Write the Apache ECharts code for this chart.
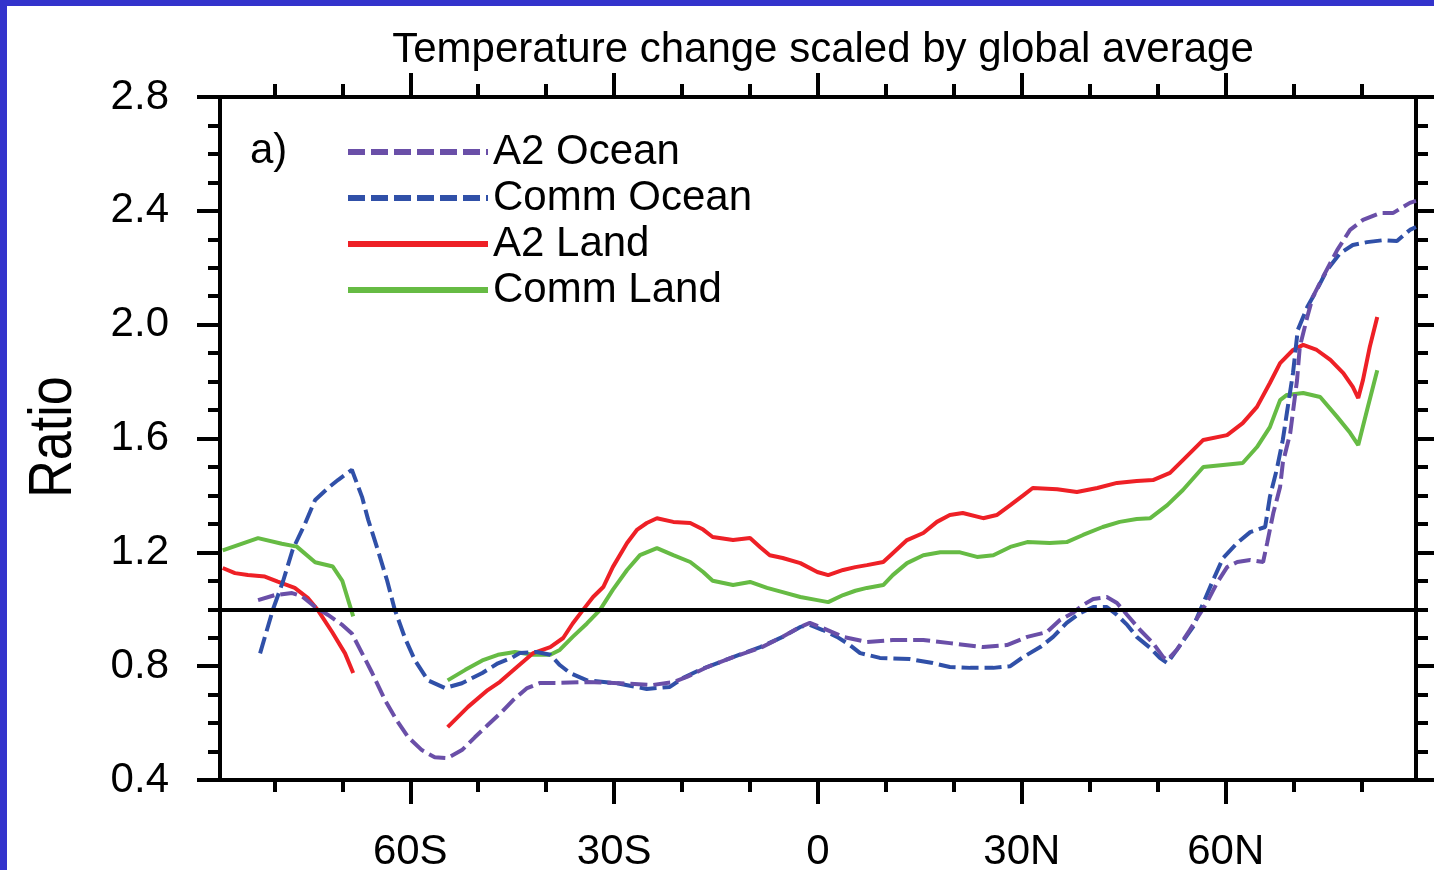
<!DOCTYPE html>
<html>
<head>
<meta charset="utf-8">
<title>Temperature change scaled by global average</title>
<script src="https://cdn.jsdelivr.net/npm/echarts@6/dist/echarts.min.js"></script>
<style>
html, body { margin: 0; padding: 0; background: #fff; }
#chart { width: 1434px; height: 870px; }
.edge { position: absolute; background: #3333cc; pointer-events: none; }
</style>
</head>
<body>
<div id="chart"></div>
<div class="edge" style="left:0;top:0;width:7px;height:870px"></div>
<div class="edge" style="left:0;top:0;width:1434px;height:6px"></div>
<script>
// latitude ticks and labels
var majorLats = [-60, -30, 0, 30, 60];
var minorLats = [-80, -70, -60, -50, -40, -30, -20, -10, 0, 10, 20, 30, 40, 50, 60, 70, 80];

// [latitude, ratio]; '-' breaks the land lines
var a2Ocean = [[-82.4,1.032],[-79.9,1.05],[-77.4,1.057],[-75.9,1.045],[-74.0,1.008],[-72.1,0.98],[-70.0,0.945],[-68.6,0.915],
  [-67.1,0.846],[-65.6,0.776],[-63.7,0.68],[-62.0,0.61],[-60.3,0.55],[-58.3,0.505],[-56.4,0.48],[-54.5,0.477],[-52.4,0.505],
  [-50.5,0.55],[-48.6,0.593],[-46.5,0.64],[-44.9,0.68],[-42.8,0.723],[-40.9,0.741],[-38.4,0.741],[-34.0,0.744],[-29.1,0.74],
  [-24.3,0.734],[-21.3,0.744],[-19.3,0.762],[-16.3,0.797],[-12.5,0.832],[-8.5,0.864],[-5.2,0.903],[-2.6,0.938],[-1.2,0.952],
  [0.7,0.934],[3.7,0.903],[7.2,0.885],[11.0,0.892],[15.5,0.892],[19.4,0.881],[24.3,0.867],[27.8,0.874],[30.8,0.903],[33.7,0.92],
  [35.6,0.962],[37.5,0.987],[39.0,1.015],[40.5,1.036],[42.5,1.043],[44.0,1.022],[45.5,0.98],[47.4,0.927],[49.3,0.881],[50.8,0.832],
  [51.4,0.822],[52.8,0.857],[54.7,0.927],[57.2,1.022],[58.7,1.092],[60.2,1.148],[61.7,1.166],[63.6,1.173],[65.5,1.166],[66.1,1.233],
  [67.0,1.338],[68.0,1.43],[68.4,1.514],[69.5,1.62],[70.5,1.806],[70.9,1.922],[72.0,2.027],[72.8,2.097],[74.3,2.167],[76.4,2.262],
  [78.3,2.333],[80.2,2.368],[82.7,2.392],[84.6,2.392],[87.1,2.428],[88,2.435]];

var commOcean = [[-82.1,0.845],[-80.2,1.0],[-78.7,1.10],[-77.3,1.21],[-75.5,1.30],[-74.0,1.384],[-72.1,1.426],[-70.6,1.455],
  [-68.6,1.49],[-67.1,1.395],[-66.2,1.315],[-64.8,1.21],[-63.4,1.10],[-62.3,1.0],[-60.8,0.90],[-59.3,0.82],[-57.4,0.75],
  [-54.9,0.723],[-52.4,0.74],[-49.4,0.776],[-47.1,0.81],[-45.0,0.83],[-43.9,0.846],[-41.4,0.85],[-39.4,0.84],[-38.0,0.804],
  [-36.5,0.776],[-34.0,0.75],[-29.6,0.74],[-25.2,0.72],[-21.8,0.727],[-19.9,0.758],[-17.4,0.787],[-12.5,0.832],[-8.5,0.867],
  [-5.2,0.903],[-2.6,0.938],[-1.2,0.945],[0.7,0.927],[2.8,0.903],[4.7,0.874],[6.2,0.846],[9.1,0.829],[13.5,0.825],[16.9,0.811],
  [19.4,0.797],[22.4,0.794],[25.8,0.794],[28.3,0.8],[30.2,0.832],[32.7,0.867],[34.6,0.903],[36.6,0.952],[38.6,0.987],[40.5,1.008],
  [42.5,1.008],[44.0,0.98],[45.5,0.945],[46.9,0.903],[48.9,0.864],[50.3,0.829],[51.4,0.811],[52.8,0.857],[55.2,0.938],[56.7,1.022],
  [58.1,1.10],[59.6,1.18],[61.7,1.233],[63.6,1.271],[65.8,1.289],[66.5,1.395],[67.5,1.49],[68.4,1.595],[69.0,1.69],[69.9,1.83],
  [70.6,1.981],[72.0,2.062],[73.4,2.122],[74.9,2.192],[76.8,2.25],[78.7,2.28],[80.8,2.29],[83.2,2.297],[85.2,2.294],[87.1,2.333],
  [88,2.343]];

var a2Land = [[-87.6,1.145],[-85.8,1.127],[-83.9,1.12],[-81.4,1.115],[-79.5,1.097],[-77.0,1.075],[-75.1,1.04],[-73.6,0.997],
  [-71.5,0.92],[-69.6,0.845],[-68.4,0.776],['-','-'],
  [-54.5,0.586],[-51.5,0.657],[-48.6,0.716],[-46.8,0.745],[-44.3,0.797],[-41.9,0.846],[-39.4,0.867],[-37.5,0.899],[-36.1,0.95],
  [-34.6,0.997],[-33.1,1.043],[-31.6,1.078],[-30.2,1.148],[-28.1,1.233],[-26.6,1.28],[-25.2,1.303],[-23.7,1.32],[-21.3,1.307],
  [-18.8,1.303],[-16.9,1.28],[-15.5,1.254],[-12.5,1.243],[-10.0,1.25],[-8.5,1.218],[-7.1,1.19],[-5.2,1.18],[-2.6,1.162],
  [-0.1,1.131],[1.5,1.12],[3.7,1.138],[5.5,1.148],[7.2,1.155],[9.6,1.166],[11.0,1.197],[13.1,1.243],[15.5,1.268],[17.5,1.307],
  [19.4,1.331],[21.3,1.338],[24.3,1.32],[26.3,1.331],[28.3,1.366],[30.2,1.40],[31.6,1.426],[35.2,1.422],[38.1,1.412],[41.1,1.426],
  [44.0,1.444],[46.9,1.451],[49.3,1.454],[51.8,1.479],[53.7,1.524],[56.7,1.595],[60.2,1.612],[62.5,1.654],[64.6,1.711],[66.5,1.795],
  [68.0,1.865],[69.9,1.911],[71.4,1.929],[73.4,1.911],[75.4,1.876],[77.3,1.83],[78.7,1.781],[79.5,1.742],[80.2,1.806],[81.2,1.922],
  [82.3,2.027]];

var commLand = [[-87.6,1.207],[-82.4,1.25],[-78.9,1.23],[-76.7,1.22],[-74.0,1.165],[-71.4,1.15],[-70.0,1.10],[-68.4,0.975],['-','-'],
  [-54.5,0.75],[-51.9,0.787],[-49.4,0.82],[-47.1,0.84],[-44.6,0.85],[-41.9,0.84],[-39.4,0.84],[-38.0,0.857],[-36.1,0.903],
  [-34.0,0.95],[-32.1,0.997],[-30.2,1.068],[-28.1,1.138],[-26.2,1.19],[-23.7,1.215],[-21.3,1.19],[-18.8,1.166],[-16.9,1.131],
  [-15.5,1.10],[-12.5,1.085],[-10.0,1.096],[-7.5,1.075],[-5.2,1.06],[-2.6,1.043],[-0.1,1.032],[1.5,1.025],[3.7,1.05],[5.5,1.065],
  [7.2,1.075],[9.6,1.085],[11.0,1.12],[13.1,1.162],[15.5,1.19],[18.0,1.20],[20.9,1.20],[23.4,1.184],[25.8,1.19],[28.3,1.219],
  [30.8,1.236],[34.1,1.233],[36.6,1.236],[39.0,1.261],[41.9,1.289],[44.4,1.307],[46.9,1.317],[48.9,1.32],[51.4,1.366],[53.7,1.419],
  [56.7,1.5],[59.6,1.507],[62.5,1.514],[64.6,1.57],[66.5,1.64],[68.0,1.735],[69.0,1.753],[71.4,1.76],[73.9,1.746],[76.4,1.676],
  [78.3,1.62],[79.5,1.577],[80.8,1.70],[82.3,1.84]];

var font = "'Liberation Sans', Arial, Helvetica, sans-serif";
var black = '#000';

function latLabel(v) {
    if (v < 0) return (-v) + 'S';
    if (v > 0) return v + 'N';
    return '0';
}

function xAxisDef(pos, ticks, len, withLabels, withLine) {
    return {
        type: 'value', position: pos, min: -88, max: 88,
        splitLine: { show: false },
        axisLine: { show: withLine, onZero: false, lineStyle: { color: black, width: 4 } },
        axisTick: { show: true, inside: false, length: len, customValues: ticks, lineStyle: { color: black, width: 4 } },
        axisLabel: {
            show: withLabels, customValues: ticks, formatter: latLabel, margin: 51,
            color: black, fontSize: 42, fontFamily: font
        }
    };
}

function yAxisDef(pos, withLabels) {
    return {
        type: 'value', position: pos, min: 0.4, max: 2.8, interval: 0.4,
        splitLine: { show: false },
        axisLine: { show: true, onZero: false, lineStyle: { color: black, width: 4 } },
        axisTick: { show: true, inside: false, length: 23, lineStyle: { color: black, width: 4 } },
        minorTick: { show: true, splitNumber: 4, length: 12, lineStyle: { color: black, width: 4 } },
        axisLabel: {
            show: withLabels, margin: 51, color: black, fontSize: 42, fontFamily: font,
            formatter: function (v) { return v.toFixed(1); }
        }
    };
}

function lineSeries(name, data, color, dash) {
    return {
        name: name, type: 'line', data: data, xAxisIndex: 0, yAxisIndex: 0,
        symbol: 'none', smooth: false, connectNulls: false, silent: true,
        lineStyle: { color: color, width: 4, type: dash ? [17, 6] : 'solid', cap: 'butt' },
        itemStyle: { color: color }
    };
}

var chart = echarts.init(document.getElementById('chart'), null, { renderer: 'canvas' });

var series = [
    lineSeries('Comm Land', commLand, '#66bb44', false),
    lineSeries('A2 Land', a2Land, '#ee2026', false),
    lineSeries('Comm Ocean', commOcean, '#3050a8', true),
    lineSeries('A2 Ocean', a2Ocean, '#6a4fa8', true)
];
// reference line at ratio 1
series[3].markLine = {
    silent: true, symbol: 'none', label: { show: false },
    lineStyle: { color: black, width: 4, type: 'solid' },
    data: [{ yAxis: 1 }]
};

chart.setOption({
    backgroundColor: '#fff',
    animation: false,
    title: [{
        text: 'Temperature change scaled by global average',
        left: 818, top: 24, textAlign: 'center',
        textStyle: { color: black, fontSize: 42, fontWeight: 'normal', fontFamily: font }
    }, {
        text: 'a)', left: 245, top: 125,
        textStyle: { color: black, fontSize: 42, fontWeight: 'normal', fontFamily: font }
    }],
    graphic: [{
        type: 'text', x: 54, y: 437, rotation: Math.PI / 2, scaleY: 1.18,
        style: { text: 'Ratio', fill: black, font: '52px ' + font, align: 'center', verticalAlign: 'middle' }
    }],
    legend: {
        orient: 'vertical', left: 345, top: 129, padding: 0,
        itemWidth: 140, itemHeight: 2, itemGap: 0,
        data: ['A2 Ocean', 'Comm Ocean', 'A2 Land', 'Comm Land'],
        lineStyle: { width: 6 },
        textStyle: { color: black, fontSize: 42, lineHeight: 46, fontFamily: font },
        selectedMode: false
    },
    grid: { left: 220, top: 97, right: 18, bottom: 90, containLabel: false, outerBoundsMode: 'none' },
    xAxis: [
        xAxisDef('bottom', majorLats, 24, true, true),
        xAxisDef('bottom', minorLats, 12, false, false),
        xAxisDef('top', majorLats, 24, false, true),
        xAxisDef('top', minorLats, 13, false, false)
    ],
    yAxis: [yAxisDef('left', true), yAxisDef('right', false)],
    series: series
});
</script>
</body>
</html>
